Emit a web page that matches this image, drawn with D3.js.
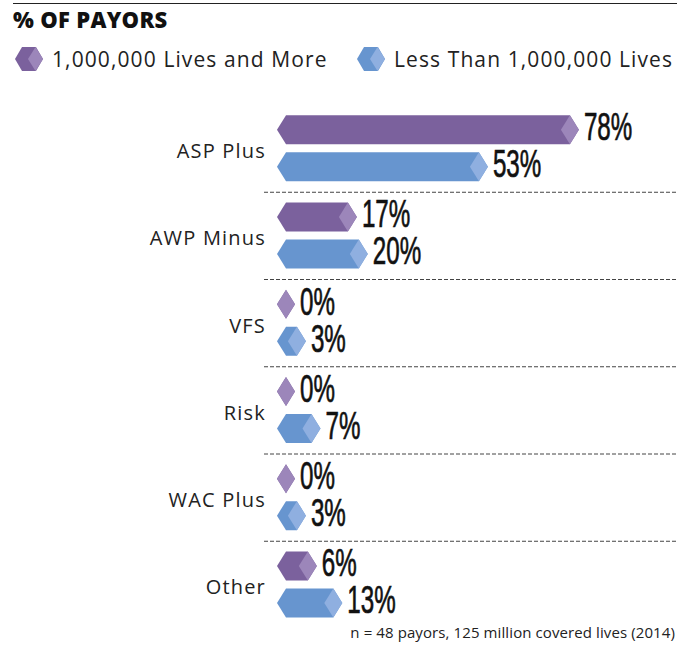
<!DOCTYPE html>
<html>
<head>
<meta charset="utf-8">
<script src="https://cdn.jsdelivr.net/npm/d3@7"></script>
<style>
  body { margin: 0; background: #fff; }
  svg { display: block; }
</style>
</head>
<body>
<div id="chart"></div>
<script>
const categories = ["ASP Plus", "AWP Minus", "VFS", "Risk", "WAC Plus", "Other"];
const seriesNames = ["1,000,000 Lives and More", "Less Than 1,000,000 Lives"];
const largePayors = [78, 17, 0, 0, 0, 6];
const smallPayors = [53, 20, 3, 7, 3, 13];
const note = "n = 48 payors, 125 million covered lives (2014)";

const width = 692, height = 647;
const dark = ["#7b619d", "#6795cf"];
const light = ["#9c86ba", "#8fafe0"];

const svg = d3.select("#chart").append("svg")
  .attr("width", width)
  .attr("height", height);

// top rule + title
svg.append("line")
  .attr("x1", 13).attr("x2", 677).attr("y1", 3.5).attr("y2", 3.5)
  .attr("stroke", "#222").attr("stroke-width", 1.2);

svg.append("text")
  .attr("x", 13).attr("y", 28)
  .style("font-family", "'Open Sans', sans-serif")
  .style("font-weight", 800)
  .style("font-size", "22px")
  .style("letter-spacing", "0.3px")
  .attr("fill", "#111")
  .text("% OF PAYORS");

const y = d3.scaleBand().domain(categories).range([104.5, 628]);
const x = d3.scaleLinear().domain([0, 100]).range([295, 659]);
const barH = 29, half = 9, off = 18.5;

// hexagon-ish bar: pointed left end at x(0)-18, tip at x(v)
function barPath(tip, cy, h, hw, start) {
  const t = cy - h / 2, b = cy + h / 2;
  return `M${start},${cy} L${start + hw},${t} L${tip - hw},${t} L${tip},${cy} L${tip - hw},${b} L${start + hw},${b} Z`;
}
function capPath(tip, cy, h, hw) {
  const t = cy - h / 2, b = cy + h / 2;
  return `M${tip - 2 * hw},${cy} L${tip - hw},${t} L${tip},${cy} L${tip - hw},${b} Z`;
}

// legend
const legendX = [15, 357];
seriesNames.forEach((name, i) => {
  const lx = legendX[i], cy = 59;
  svg.append("path").attr("d", barPath(lx + 28, cy, 24, 7, lx)).attr("fill", dark[i]);
  svg.append("path").attr("d", capPath(lx + 28, cy, 24, 7.5)).attr("fill", light[i]);
  svg.append("text")
    .attr("x", lx + 37).attr("y", 67)
    .style("font-family", "'Open Sans', sans-serif")
    .style("font-size", "21px")
    .style("letter-spacing", "1.1px")
    .attr("fill", "#222")
    .text(name);
});

// separators
svg.append("g").selectAll("line")
  .data(categories.slice(1))
  .join("line")
  .attr("x1", 264).attr("x2", 676)
  .attr("y1", d => y(d) + 0.5).attr("y2", d => y(d) + 0.5)
  .attr("stroke", "#444").attr("stroke-width", 1)
  .attr("stroke-dasharray", "4,2");

// category labels
svg.append("g").selectAll("text")
  .data(categories)
  .join("text")
  .attr("x", 266)
  .attr("y", d => y(d) + y.bandwidth() / 2 + 10)
  .attr("text-anchor", "end")
  .style("font-family", "'Open Sans', sans-serif")
  .style("font-size", "20px")
  .style("letter-spacing", "1.2px")
  .attr("fill", "#222")
  .text(d => d);

const rows = [];
categories.forEach((c, k) => {
  const cy = y(c) + y.bandwidth() / 2;
  rows.push({ s: 0, v: largePayors[k], cy: cy - off });
  rows.push({ s: 1, v: smallPayors[k], cy: cy + off });
});

const bars = svg.append("g").selectAll("g")
  .data(rows)
  .join("g");

bars.append("path")
  .attr("d", d => barPath(x(d.v), d.cy, barH, half, x(0) - 18))
  .attr("fill", d => dark[d.s]);

bars.append("path")
  .attr("d", d => capPath(x(d.v), d.cy, barH, half))
  .attr("fill", d => light[d.s]);

// condensed value labels: regular face squeezed horizontally, thickened a little
const sx = 0.62;
bars.append("text")
  .attr("transform", d => `translate(${x(d.v) + 5},${d.cy + 10.5}) scale(${sx},1)`)
  .style("font-family", "'Liberation Sans', sans-serif")
  .style("font-size", "39px")
  .attr("fill", "#111")
  .attr("stroke", "#111")
  .attr("stroke-width", 0.7)
  .text(d => d.v + "%");

svg.append("text")
  .attr("x", 675).attr("y", 638)
  .attr("text-anchor", "end")
  .style("font-family", "'Open Sans', sans-serif")
  .style("font-size", "15px")
  .style("letter-spacing", "0.1px")
  .attr("fill", "#222")
  .text(note);
</script>
</body>
</html>
